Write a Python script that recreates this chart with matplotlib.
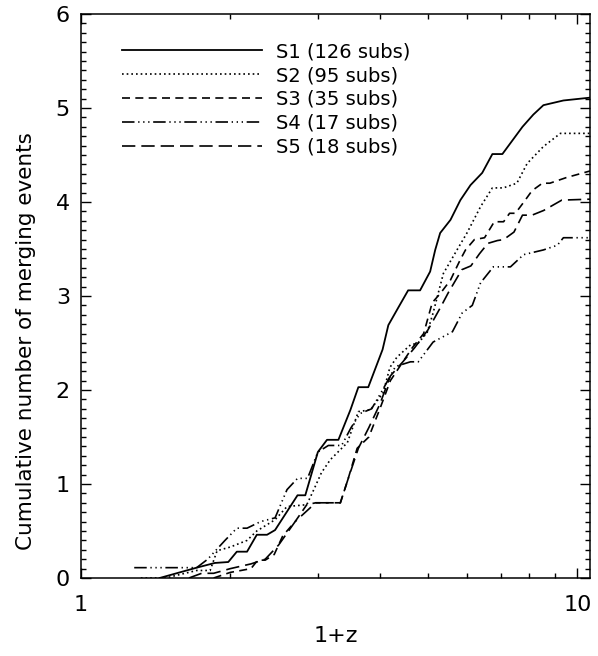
import matplotlib
matplotlib.use('Agg')
import matplotlib.pyplot as plt
from matplotlib.ticker import FixedLocator, MultipleLocator, NullFormatter

# cumulative merging events vs 1+z
s1_x = [1.44, 1.71, 1.86, 1.98, 2.06, 2.16, 2.26, 2.37, 2.46, 2.73, 2.83, 3.00, 3.13, 3.30, 3.49, 3.62,
        3.79, 4.05, 4.16, 4.36, 4.56, 4.82, 5.05, 5.17, 5.29, 5.55, 5.81, 6.09, 6.43, 6.74, 7.06, 7.75,
        8.15, 8.54, 9.37, 10.6]
s1_y = [0.0, 0.11, 0.16, 0.17, 0.28, 0.28, 0.46, 0.46, 0.51, 0.88, 0.88, 1.34, 1.47, 1.47, 1.79, 2.03,
        2.03, 2.43, 2.69, 2.88, 3.06, 3.06, 3.26, 3.49, 3.67, 3.81, 4.02, 4.18, 4.31, 4.51, 4.51, 4.80,
        4.93, 5.03, 5.08, 5.11]

s2_x = [1.32, 1.48, 1.71, 1.82, 1.88, 2.00, 2.16, 2.26, 2.46, 2.60, 2.85, 2.95, 3.05, 3.18, 3.44, 3.62,
        3.83, 4.06, 4.19, 4.33, 4.61, 4.78, 4.98, 5.12, 5.37, 5.72, 5.99, 6.38, 6.74, 7.09, 7.55, 7.92,
        8.54, 9.24, 10.6]
s2_y = [0.0, 0.0, 0.08, 0.08, 0.29, 0.33, 0.40, 0.50, 0.62, 0.76, 0.78, 0.95, 1.12, 1.26, 1.44, 1.77,
        1.79, 1.97, 2.24, 2.35, 2.48, 2.50, 2.61, 2.82, 3.24, 3.49, 3.67, 3.95, 4.15, 4.15, 4.20, 4.41,
        4.59, 4.73, 4.73]

s3_x = [1.85, 2.0, 2.1, 2.2, 2.27, 2.35, 2.45, 2.55, 2.7, 2.85, 2.97, 3.33, 3.45, 3.6, 3.8, 4.0, 4.2,
        4.45, 4.65, 4.9, 5.1, 5.3, 5.55, 5.8, 5.95, 6.2, 6.5, 6.8, 7.1, 7.3, 7.5, 7.8, 8.1, 8.5, 8.8, 9.5,
        10.6]
s3_y = [0.0, 0.06, 0.08, 0.10, 0.19, 0.19, 0.25, 0.45, 0.60, 0.78, 0.80, 0.80, 1.05, 1.38, 1.50, 1.80,
        2.10, 2.30, 2.45, 2.60, 2.93, 3.03, 3.17, 3.38, 3.49, 3.60, 3.62, 3.79, 3.79, 3.88, 3.88, 4.00,
        4.12, 4.20, 4.20, 4.26, 4.33]

s4_x = [1.28, 1.71, 1.80, 1.95, 2.06, 2.16, 2.30, 2.46, 2.60, 2.73, 2.86, 3.00, 3.15, 3.35, 3.50, 3.65,
        3.85, 4.05, 4.30, 4.61, 4.78, 5.12, 5.60, 5.86, 6.14, 6.38, 6.77, 7.33, 7.79, 8.54, 9.11, 9.37,
        10.6]
s4_y = [0.11, 0.11, 0.20, 0.40, 0.53, 0.53, 0.60, 0.64, 0.94, 1.06, 1.06, 1.34, 1.41, 1.41, 1.60, 1.75,
        1.80, 2.00, 2.25, 2.30, 2.30, 2.51, 2.62, 2.82, 2.90, 3.14, 3.31, 3.31, 3.44, 3.49, 3.54, 3.62,
        3.62]

s5_x = [1.65, 1.75, 1.85, 2.0, 2.2, 2.35, 2.5, 2.7, 2.9, 2.97, 3.33, 3.45, 3.62, 3.8, 4.0, 4.2, 4.45,
        4.7, 5.0, 5.3, 5.5, 5.85, 6.1, 6.35, 6.6, 6.9, 7.1, 7.45, 7.75, 8.1, 8.55, 9.3, 10.6]
s5_y = [0.0, 0.05, 0.05, 0.10, 0.15, 0.20, 0.35, 0.60, 0.75, 0.80, 0.80, 1.05, 1.38, 1.60, 1.85, 2.15,
        2.30, 2.45, 2.64, 2.88, 3.04, 3.28, 3.32, 3.45, 3.56, 3.59, 3.60, 3.68, 3.86, 3.86, 3.91, 4.02,
        4.03]

labels = ['S1 (126 subs)', 'S2 (95 subs)', 'S3 (35 subs)', 'S4 (17 subs)', 'S5 (18 subs)']

plt.rcParams['font.family'] = ['DejaVu Sans']

fig = plt.figure(figsize=(5.98, 6.56), dpi=100)
ax = fig.add_axes([81 / 598, 1 - 578 / 656, 509 / 598, 564 / 656])

ax.plot(s1_x, s1_y, color='black', lw=1.3, ls='-', label=labels[0])
ax.plot(s2_x, s2_y, color='black', lw=1.2, ls=(0, (1, 1.8)), label=labels[1])
ax.plot(s3_x, s3_y, color='black', lw=1.2, ls=(0, (4.8, 3.2)), label=labels[2])
ax.plot(s4_x, s4_y, color='black', lw=1.2, ls=(0, (7.5, 2.2, 0.8, 2.2, 0.8, 2.2, 0.8, 2.2)), label=labels[3])
ax.plot(s5_x, s5_y, color='black', lw=1.2, ls=(0, (8, 3.6)), label=labels[4])

ax.set_xscale('log')
ax.set_xlim(1, 10.6)
ax.set_ylim(0, 6)

ax.xaxis.set_major_locator(FixedLocator([1, 10]))
ax.set_xticklabels(['1', '10'])
ax.xaxis.set_minor_locator(FixedLocator([2, 3, 4, 5, 6, 7, 8, 9]))
ax.xaxis.set_minor_formatter(NullFormatter())
ax.yaxis.set_major_locator(MultipleLocator(1))
ax.yaxis.set_minor_locator(MultipleLocator(0.1))

ax.tick_params(which='both', direction='in', top=True, right=True, width=1, labelsize=16)
ax.tick_params(which='major', length=7.5)
ax.tick_params(which='minor', length=3.8)
ax.tick_params(axis='x', which='major', pad=12)
ax.tick_params(axis='y', which='major', pad=8)
for sp in ax.spines.values():
    sp.set_linewidth(1.1)

ax.set_xlabel('1+z', fontsize=16, labelpad=8)
ax.set_ylabel('Cumulative number of merging events', fontsize=15.5)
ax.yaxis.set_label_coords(-0.088, 0.42)

ax.legend(loc='upper left', bbox_to_anchor=(0.08, 0.95), frameon=False, fontsize=14,
          handlelength=7.2, handletextpad=0.75, labelspacing=0.25, borderpad=0, borderaxespad=0)

fig.savefig('out.png', dpi=100)
